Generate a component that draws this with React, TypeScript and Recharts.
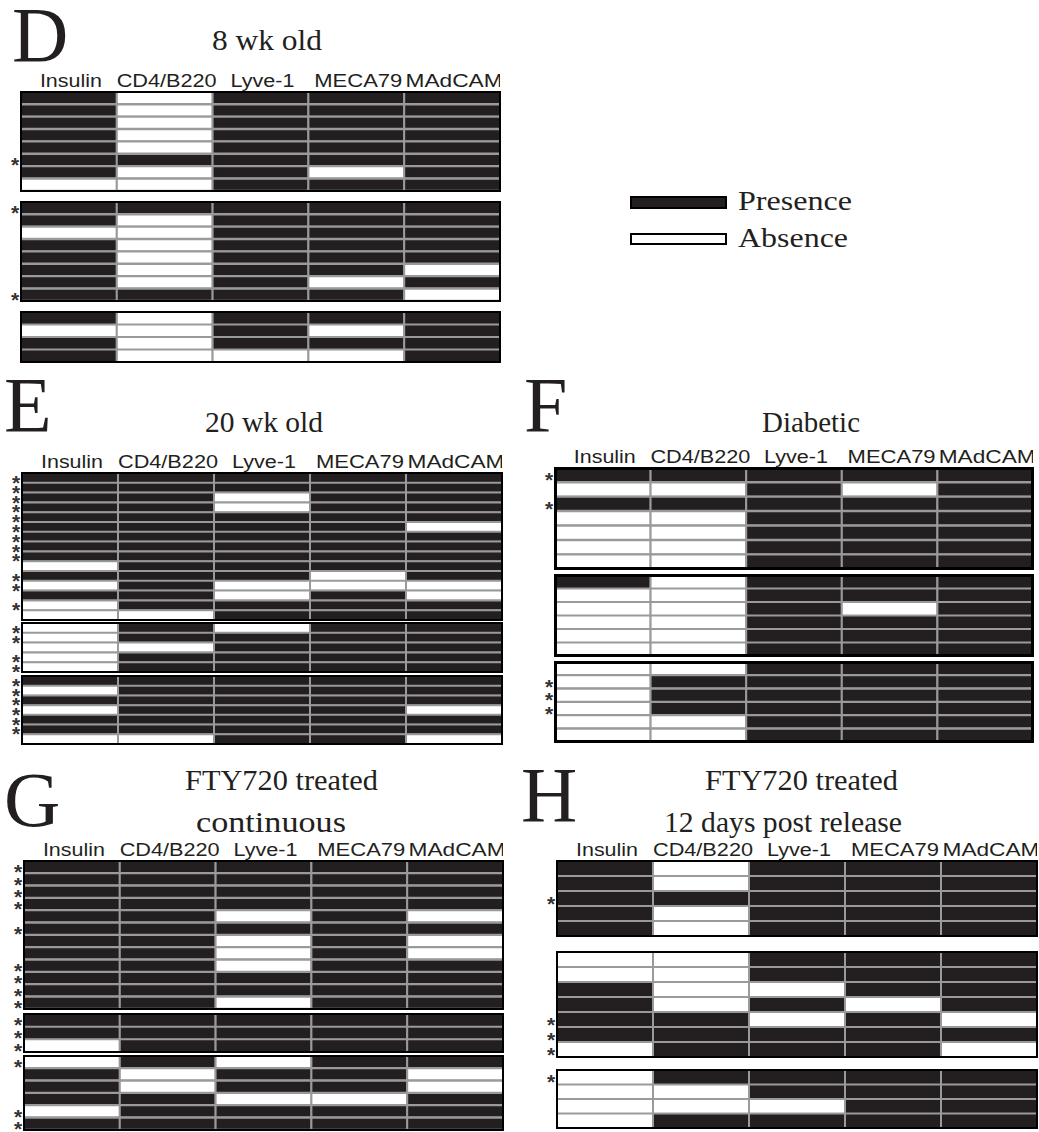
import { BarChart, Bar, XAxis, YAxis, Cell } from "recharts";

// marker columns, left to right
const markers = ["Insulin", "CD4/B220", "Lyve-1", "MECA79", "MAdCAM"];
const labelWidths = [62, 100, 64, 88, 97];

// each string is one islet: 1 = presence, 0 = absence, one digit per marker
// starred rows are listed by index

// D: 8 wk old
const wk8A = ["10111", "10111", "10111", "10111", "10111", "11111", "10101", "00111"];
const wk8AStars = [5];
const wk8B = ["11111", "10111", "00111", "10111", "10111", "10110", "10101", "11110"];
const wk8BStars = [0, 7];
const wk8C = ["10111", "00101", "10111", "10001"];
const wk8CStars: number[] = [];

// E: 20 wk old
const wk20A = [
  "11111", "11111", "11011", "11011", "11111", "11110", "11111", "11111",
  "11111", "01111", "11101", "01000", "11010", "01111", "00111",
];
const wk20AStars = [0, 1, 2, 3, 4, 5, 6, 7, 8, 10, 11, 13];
const wk20B = ["01011", "01111", "00111", "01111", "01111"];
const wk20BStars = [0, 1, 3, 4];
const wk20C = ["11111", "01111", "11111", "01110", "11111", "11111", "00110"];
const wk20CStars = [0, 1, 2, 3, 4, 5];

// F: Diabetic
const diabA = ["11111", "00101", "11111", "00111", "00111", "00111", "00111"];
const diabAStars = [0, 2];
const diabB = ["10111", "00111", "00101", "00111", "00111", "00111"];
const diabBStars: number[] = [];
const diabC = ["00111", "01111", "01111", "01111", "00111", "00111"];
const diabCStars = [1, 2, 3];

// G: FTY720 treated, continuous
const ctnA = [
  "11111", "11111", "11111", "11111", "11010", "11111",
  "11010", "11010", "11011", "11111", "11111", "11011",
];
const ctnAStars = [0, 1, 2, 3, 5, 8, 9, 10, 11];
const ctnB = ["11111", "11111", "01111"];
const ctnBStars = [0, 1, 2];
const ctnC = ["01011", "10110", "10110", "11001", "01111", "11111"];
const ctnCStars = [0, 4, 5];

// H: FTY720 treated, 12 days post release
const relA = ["10111", "10111", "11111", "10111", "10111"];
const relAStars = [2];
const relB = ["00111", "00111", "10011", "10101", "11010", "11111", "01110"];
const relBStars = [4, 5, 6];
const relC = ["01111", "00111", "00011", "01111"];
const relCStars = [0];

const INK = "#231f20";
const LINE = "#9a9a9a";
const SANS = "'Liberation Sans', Arial, sans-serif";
const SERIF = "'Liberation Serif', 'Times New Roman', serif";
const AXIS_W = 14;
const HEAD_H = 24;

const HeaderTick = (props: any) => {
  const { x, y, payload } = props;
  const i = Math.floor(payload.value);
  return (
    <text
      x={x + 2}
      y={y}
      textAnchor="middle"
      fontFamily={SANS}
      fontSize={18}
      fill={INK}
      textLength={labelWidths[i]}
      lengthAdjust="spacingAndGlyphs">
      {markers[i]}
    </text>
  );
};

function Group({ rows, stars, x, y, w, h, header = false, border = 2 }: any) {
  const data = rows.map((r: string, i: number) => ({
    row: String(i),
    pattern: r,
    c0: 1,
    c1: 1,
    c2: 1,
    c3: 1,
    c4: 1,
  }));
  const headH = header ? HEAD_H : 0;

  const StarTick = (p: any) => {
    if (!stars.includes(Number(p.payload.value))) return null;
    return (
      <text
        x={p.x - 6}
        y={p.y + 12}
        textAnchor="middle"
        fontFamily={SANS}
        fontWeight="bold"
        fontSize={21}
        fill="#333">
        *
      </text>
    );
  };

  return (
    <div style={{ position: "absolute", left: x - AXIS_W, top: y - headH }}>
      <BarChart
        layout="vertical"
        width={w + AXIS_W}
        height={h + headH}
        data={data}
        margin={{ top: 0, right: 0, bottom: 0, left: 0 }}
        barCategoryGap={0}
        barGap={0}>
        <XAxis
          type="number"
          domain={[0, 5]}
          orientation="top"
          hide={!header}
          height={headH}
          ticks={[0.5, 1.5, 2.5, 3.5, 4.5]}
          interval={0}
          axisLine={false}
          tickLine={false}
          tickSize={0}
          tickMargin={5}
          tick={<HeaderTick />}
        />
        <YAxis
          type="category"
          dataKey="row"
          width={AXIS_W}
          interval={0}
          axisLine={false}
          tickLine={false}
          tickSize={0}
          tickMargin={0}
          tick={StarTick}
        />
        {markers.map((m, c) => (
          <Bar
            key={m}
            dataKey={`c${c}`}
            stackId="s"
            isAnimationActive={false}
            stroke={LINE}
            strokeWidth={2}>
            {data.map((d: any, i: number) => (
              <Cell
                key={i}
                fill={d.pattern[c] === "1" ? INK : "#fff"}
                stroke={LINE}
              />
            ))}
          </Bar>
        ))}
      </BarChart>
      <div
        style={{
          position: "absolute",
          left: AXIS_W - 1,
          top: headH - 1,
          width: w + 2,
          height: h + 2,
          border: `${border}px solid #000`,
          boxSizing: "border-box",
          pointerEvents: "none",
        }}
      />
    </div>
  );
}

export default function App() {
  return (
    <div
      style={{
        position: "absolute",
        left: 0,
        top: 0,
        width: 1039,
        height: 1132,
        background: "#fff",
        overflow: "hidden",
      }}>
      <svg
        width={1039}
        height={1132}
        style={{ position: "absolute", left: 0, top: 0 }}
        fill={INK}
        fontFamily={SERIF}>
        <text x={12} y={61} fontSize={78}>D</text>
        <text x={212} y={50} fontSize={30} textLength={110} lengthAdjust="spacingAndGlyphs">8 wk old</text>

        <rect x={631} y={197} width={95} height={11} fill={INK} stroke="#000" strokeWidth={2} />
        <text x={738} y={210} fontSize={27} textLength={114} lengthAdjust="spacingAndGlyphs">Presence</text>
        <rect x={631} y={234} width={95} height={10} fill="#fff" stroke="#000" strokeWidth={2} />
        <text x={738} y={247} fontSize={27} textLength={110} lengthAdjust="spacingAndGlyphs">Absence</text>

        <text x={4} y={431} fontSize={78}>E</text>
        <text x={205} y={432} fontSize={30} textLength={118} lengthAdjust="spacingAndGlyphs">20 wk old</text>

        <text x={524} y={431} fontSize={78}>F</text>
        <text x={762} y={432} fontSize={30} textLength={98} lengthAdjust="spacingAndGlyphs">Diabetic</text>

        <text x={4} y={826} fontSize={78}>G</text>
        <text x={185} y={790} fontSize={30} textLength={193} lengthAdjust="spacingAndGlyphs">FTY720 treated</text>
        <text x={196} y={832} fontSize={30} textLength={150} lengthAdjust="spacingAndGlyphs">continuous</text>

        <text x={521} y={821} fontSize={78}>H</text>
        <text x={705} y={790} fontSize={30} textLength={193} lengthAdjust="spacingAndGlyphs">FTY720 treated</text>
        <text x={664} y={832} fontSize={30} textLength={238} lengthAdjust="spacingAndGlyphs">12 days post release</text>
      </svg>

      <Group rows={wk8A} stars={wk8AStars} x={21} y={92} w={479} h={99} header />
      <Group rows={wk8B} stars={wk8BStars} x={21} y={202} w={479} h={99} />
      <Group rows={wk8C} stars={wk8CStars} x={21} y={312} w={479} h={50} />

      <Group rows={wk20A} stars={wk20AStars} x={22} y={473} w={480} h={147} header />
      <Group rows={wk20B} stars={wk20BStars} x={22} y={623} w={480} h={49} />
      <Group rows={wk20C} stars={wk20CStars} x={22} y={676} w={480} h={68} />

      <Group rows={diabA} stars={diabAStars} x={555} y={468} w={478} h={101} header border={3} />
      <Group rows={diabB} stars={diabBStars} x={555} y={575} w={478} h={81} border={3} />
      <Group rows={diabC} stars={diabCStars} x={555} y={662} w={478} h={80} border={3} />

      <Group rows={ctnA} stars={ctnAStars} x={24} y={861} w={479} h={148} header />
      <Group rows={ctnB} stars={ctnBStars} x={24} y={1014} w={479} h={38} />
      <Group rows={ctnC} stars={ctnCStars} x={24} y={1056} w={479} h={74} />

      <Group rows={relA} stars={relAStars} x={557} y={861} w={480} h={75} header />
      <Group rows={relB} stars={relBStars} x={557} y={952} w={480} h={105} />
      <Group rows={relC} stars={relCStars} x={557} y={1070} w={480} h={58} />
    </div>
  );
}
